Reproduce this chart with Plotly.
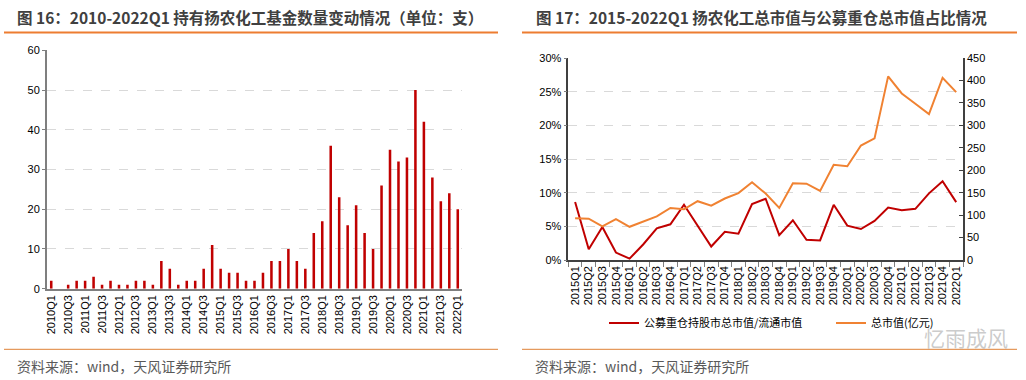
import plotly.graph_objects as go

W, H = 1026, 380

# ---------------- data ----------------
quarters_left = [f"{y}Q{q}" for y in range(2010, 2022) for q in range(1, 5)] + ["2022Q1"]
fund_counts = [2, 0, 1, 2,
               2, 3, 1, 2,
               1, 1, 2, 2,
               1, 7, 5, 1,
               2, 2, 5, 11,
               5, 4, 4, 2,
               2, 4, 7, 7,
               10, 7, 5, 14,
               17, 36, 23, 16,
               21, 14, 10, 26,
               35, 32, 33, 50,
               42, 28, 22, 24,
               20]
left_ticks = quarters_left[::2]

quarters_right = [f"{y}Q{q}" for y in range(2015, 2022) for q in range(1, 5)] + ["2022Q1"]
ratio_pct = [8.6, 1.6, 4.9, 1.1,
             0.2, 2.3, 4.7, 5.3,
             8.2, 5.0, 2.0, 4.2,
             3.9, 8.3, 9.1, 3.7,
             5.9, 3.0, 2.9, 8.2,
             5.1, 4.6, 5.8, 7.8,
             7.4, 7.6, 9.9, 11.7,
             8.6]
mcap = [93, 92, 75, 91,
        74, 85, 97, 116,
        113, 131, 121, 137,
        149, 173, 148, 116,
        171, 170, 154, 212,
        209, 255, 271, 409,
        371, 348, 325, 406,
        374]

title_left = "图 16：2010-2022Q1 持有扬农化工基金数量变动情况（单位：支）"
title_right = "图 17：2015-2022Q1 扬农化工总市值与公募重仓总市值占比情况"
source_text = "资料来源：wind，天风证券研究所"
name_ratio = "公募重仓持股市总市值/流通市值"
name_mcap = "总市值(亿元)"

RED = "#C00000"
ORANGE = "#F08232"
FONT = "Liberation Sans, Arial, Noto Sans CJK SC"
CJK = "Noto Sans CJK SC"


def px(x):
    return x / W


def py(y):
    return 1 - y / H


fig = go.Figure()
fig.add_trace(go.Bar(x=quarters_left, y=fund_counts, marker=dict(color=RED, line=dict(width=0)),
                     xaxis="x", yaxis="y", showlegend=False))
fig.add_trace(go.Scatter(x=quarters_right, y=ratio_pct, mode="lines", name=name_ratio,
                         line=dict(color=RED, width=2), xaxis="x2", yaxis="y2", legend="legend"))
fig.add_trace(go.Scatter(x=quarters_right, y=mcap, mode="lines", name=name_mcap,
                         line=dict(color=ORANGE, width=2), xaxis="x2", yaxis="y3", legend="legend2"))

tickfont = dict(family=FONT, size=11, color="#000000")
grid = dict(showgrid=True, gridcolor="#d9d9d9", griddash="dash", gridwidth=1)

fig.update_layout(
    width=W, height=H,
    margin=dict(l=0, r=0, t=0, b=0, pad=0, autoexpand=False),
    paper_bgcolor="white", plot_bgcolor="white",
    bargap=0.7,
    font=dict(family=FONT),
    xaxis=dict(domain=[px(47), px(462)], anchor="y", type="category", range=[-0.5, 48.5],
               tickvals=left_ticks, ticktext=left_ticks, tickangle=-90, tickfont=tickfont,
               showline=True, linecolor="#7f7f7f", linewidth=2, ticks="", showgrid=False,
               automargin=False),
    yaxis=dict(domain=[py(288.7), py(50.3)], anchor="x", range=[0, 60], dtick=10,
               tickfont=tickfont, showline=True, linecolor="#7f7f7f", linewidth=2,
               ticks="outside", ticklen=3, tickcolor="#7f7f7f", zeroline=False,
               automargin=False, **grid),
    xaxis2=dict(domain=[px(568.3), px(963)], anchor="y2", type="category", range=[-0.5, 28.5],
                tickangle=-90, tickfont=tickfont, showline=True, linecolor="#404040", linewidth=1.5,
                ticks="outside", tickson="boundaries", ticklen=5, tickcolor="#808080", showgrid=False,
                automargin=False),
    yaxis2=dict(domain=[py(260), py(58)], anchor="x2", range=[0, 30], dtick=5, ticksuffix="%",
                tickfont=tickfont, showline=True, linecolor="#404040", linewidth=1.5,
                ticks="outside", ticklen=3, tickcolor="#808080", zeroline=False,
                automargin=False, **grid),
    yaxis3=dict(overlaying="y2", anchor="x2", side="right", range=[0, 450], dtick=50,
                tickfont=tickfont, showline=True, linecolor="#404040", linewidth=1.5,
                ticks="inside", ticklen=4, tickcolor="#404040", showgrid=False, zeroline=False,
                automargin=False),
    legend=dict(x=px(604), y=py(323), xanchor="left", yanchor="middle", orientation="h",
                font=dict(family=CJK, size=11, color="#000"), bgcolor="rgba(0,0,0,0)"),
    legend2=dict(x=px(831), y=py(323), xanchor="left", yanchor="middle", orientation="h",
                 font=dict(family=CJK, size=11, color="#000"), bgcolor="rgba(0,0,0,0)"),
)

shapes = []
for x0, x1 in [(4, 498), (522, 1017)]:
    shapes.append(dict(type="line", xref="paper", yref="paper", x0=px(x0), x1=px(x1),
                       y0=py(32.5), y1=py(32.5), line=dict(color="#ED7D31", width=2)))
    shapes.append(dict(type="line", xref="paper", yref="paper", x0=px(x0), x1=px(x1),
                       y0=py(349.3), y1=py(349.3), line=dict(color="#E59A5E", width=1.2)))
fig.update_layout(shapes=shapes)

annotations = [
    dict(text=title_left, x=px(15), y=py(17.5), xanchor="left", yanchor="middle",
         font=dict(family=CJK, size=15.5, color="#404040", weight="bold")),
    dict(text=title_right, x=px(534), y=py(17.5), xanchor="left", yanchor="middle",
         font=dict(family=CJK, size=15.5, color="#404040", weight="bold")),
    dict(text=source_text, x=px(15), y=py(366), xanchor="left", yanchor="middle",
         font=dict(family=CJK, size=14, color="#595959")),
    dict(text=source_text, x=px(533), y=py(366), xanchor="left", yanchor="middle",
         font=dict(family=CJK, size=14, color="#595959")),
    dict(text="忆雨成风", x=px(966), y=py(337), xanchor="center", yanchor="middle",
         font=dict(family=CJK, size=21, color="rgba(160,160,160,0.55)")),
]
for a in annotations:
    a.update(xref="paper", yref="paper", showarrow=False)
fig.update_layout(annotations=annotations)

fig.write_html("out.html", config={"displayModeBar": False},
               post_script="document.body.style.margin='0';document.body.style.overflow='hidden';")
